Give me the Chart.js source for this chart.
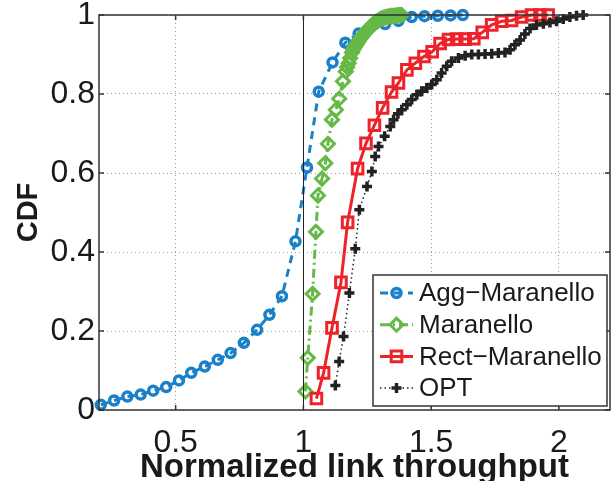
<!doctype html>
<html lang="en">
<head>
  <meta charset="utf-8">
  <title>CDF of normalized link throughput</title>
  <script src="https://cdn.jsdelivr.net/npm/chart.js"></script>
  <style>
    body { margin: 0; background: #fff; }
  </style>
</head>
<body>
<canvas id="cdfChart" width="613" height="481"></canvas>
<script>
// CDF samples per scheme: [throughput, cumulative fraction]
const aggMaranello = [
  [0.207, 0.013], [0.259, 0.024], [0.311, 0.034], [0.363, 0.039], [0.412, 0.049],
  [0.463, 0.058], [0.513, 0.075], [0.561, 0.094], [0.614, 0.110], [0.665, 0.127],
  [0.715, 0.144], [0.767, 0.170], [0.819, 0.203], [0.867, 0.241], [0.916, 0.288],
  [0.969, 0.427], [1.014, 0.614], [1.060, 0.806], [1.114, 0.880], [1.164, 0.930],
  [1.216, 0.953], [1.268, 0.972], [1.320, 0.977], [1.372, 0.985], [1.424, 0.995],
  [1.474, 0.997], [1.526, 0.998], [1.576, 0.999], [1.624, 1.000]
];
const maranello = [
  [1.008, 0.047], [1.017, 0.132], [1.036, 0.294], [1.049, 0.451], [1.057, 0.543],
  [1.073, 0.586], [1.086, 0.625], [1.096, 0.674], [1.112, 0.735], [1.127, 0.760],
  [1.140, 0.788], [1.155, 0.832], [1.166, 0.857], [1.171, 0.868], [1.177, 0.878],
  [1.183, 0.891], [1.190, 0.905], [1.195, 0.912], [1.200, 0.918], [1.205, 0.923],
  [1.210, 0.928], [1.215, 0.933], [1.220, 0.938], [1.225, 0.942], [1.229, 0.946],
  [1.234, 0.950], [1.239, 0.953], [1.244, 0.957], [1.249, 0.960], [1.253, 0.964],
  [1.258, 0.967], [1.263, 0.970], [1.268, 0.974], [1.273, 0.977], [1.278, 0.979],
  [1.283, 0.982], [1.288, 0.984], [1.293, 0.986], [1.298, 0.988], [1.303, 0.990],
  [1.307, 0.991], [1.313, 0.993], [1.320, 0.994], [1.326, 0.995], [1.333, 0.996],
  [1.340, 0.997], [1.346, 0.997], [1.352, 0.998], [1.359, 0.998], [1.366, 0.999],
  [1.372, 0.999], [1.378, 1.000], [1.385, 1.000]
];
const rectMaranello = [
  [1.051, 0.029], [1.079, 0.094], [1.112, 0.208], [1.147, 0.323], [1.173, 0.475],
  [1.212, 0.611], [1.245, 0.675], [1.278, 0.721], [1.310, 0.765], [1.345, 0.805],
  [1.372, 0.828], [1.405, 0.861], [1.438, 0.878], [1.472, 0.895], [1.504, 0.907],
  [1.535, 0.928], [1.568, 0.938], [1.600, 0.939], [1.633, 0.939], [1.667, 0.940],
  [1.700, 0.956], [1.737, 0.975], [1.776, 0.984], [1.815, 0.986], [1.854, 0.995],
  [1.893, 1.000], [1.926, 1.000], [1.958, 1.000]
];
const opt = [
  [1.125, 0.062], [1.140, 0.123], [1.157, 0.186], [1.180, 0.296], [1.203, 0.408],
  [1.219, 0.507], [1.249, 0.566], [1.268, 0.604], [1.281, 0.642], [1.294, 0.667],
  [1.318, 0.693], [1.340, 0.718], [1.353, 0.735], [1.370, 0.750], [1.385, 0.760],
  [1.405, 0.773], [1.424, 0.786], [1.444, 0.798], [1.463, 0.807], [1.483, 0.815],
  [1.502, 0.824], [1.522, 0.836], [1.541, 0.853], [1.561, 0.870], [1.580, 0.883],
  [1.607, 0.891], [1.633, 0.897], [1.659, 0.900], [1.685, 0.900], [1.711, 0.901],
  [1.737, 0.902], [1.763, 0.904], [1.789, 0.905], [1.809, 0.912], [1.828, 0.925],
  [1.848, 0.937], [1.867, 0.952], [1.887, 0.966], [1.912, 0.975], [1.939, 0.978],
  [1.965, 0.981], [1.991, 0.984], [2.017, 0.990], [2.043, 0.995], [2.069, 0.998],
  [2.095, 1.000]
];

const seriesNames = ['Agg\u2212Maranello', 'Maranello', 'Rect\u2212Maranello', 'OPT'];
const xTicks = [0.5, 1, 1.5, 2];
const yTicks = [0, 0.2, 0.4, 0.6, 0.8, 1];

const FONT = "'Liberation Sans', Arial, Helvetica, sans-serif";
const toXY = arr => arr.map(p => ({ x: p[0], y: p[1] }));

// keep the plot box where the layout padding puts it
function fixBox(s, size) {
  if (s.isHorizontal()) s.height = size; else s.width = size;
  s.paddingLeft = s.paddingRight = s.paddingTop = s.paddingBottom = 0;
}

// MATLAB-like box, x = 1 reference line and inward tick marks
const frame = {
  id: 'frame',
  afterDatasetsDraw(chart) {
    const { ctx, chartArea: a, scales: { x, y } } = chart;
    ctx.save();
    ctx.strokeStyle = '#222';
    ctx.lineWidth = 1;
    const x1 = Math.round(x.getPixelForValue(1)) + 0.5;
    ctx.beginPath();
    ctx.moveTo(x1, a.top);
    ctx.lineTo(x1, a.bottom);
    ctx.stroke();
    ctx.lineWidth = 1.5;
    ctx.strokeStyle = '#333';
    ctx.strokeRect(a.left, a.top, a.right - a.left, a.bottom - a.top);
    ctx.beginPath();
    xTicks.forEach(v => {
      const px = x.getPixelForValue(v);
      ctx.moveTo(px, a.bottom); ctx.lineTo(px, a.bottom - 5);
      ctx.moveTo(px, a.top); ctx.lineTo(px, a.top + 5);
    });
    yTicks.forEach(v => {
      const py = y.getPixelForValue(v);
      ctx.moveTo(a.left, py); ctx.lineTo(a.left + 5, py);
      ctx.moveTo(a.right, py); ctx.lineTo(a.right - 5, py);
    });
    ctx.stroke();
    ctx.restore();
  }
};

function marker(ctx, style, cx, cy, r) {
  ctx.beginPath();
  if (style === 'circle') {
    ctx.arc(cx, cy, r, 0, Math.PI * 2);
  } else if (style === 'rectRot') {
    ctx.moveTo(cx - r, cy); ctx.lineTo(cx, cy - r);
    ctx.lineTo(cx + r, cy); ctx.lineTo(cx, cy + r); ctx.closePath();
  } else if (style === 'rect') {
    const s = r * Math.SQRT1_2;
    ctx.rect(cx - s, cy - s, 2 * s, 2 * s);
  } else {
    ctx.moveTo(cx - r, cy); ctx.lineTo(cx + r, cy);
    ctx.moveTo(cx, cy - r); ctx.lineTo(cx, cy + r);
  }
  ctx.stroke();
}

// legend box in the lower right corner of the plot
const boxLegend = {
  id: 'boxLegend',
  afterDraw(chart) {
    const { ctx, chartArea: a } = chart;
    const left = 373, top = 275, right = a.right - 3, bottom = 406;
    ctx.save();
    ctx.fillStyle = '#fff';
    ctx.fillRect(left, top, right - left, bottom - top);
    ctx.strokeStyle = '#333';
    ctx.lineWidth = 1.5;
    ctx.strokeRect(left, top, right - left, bottom - top);
    ctx.font = '26px ' + FONT;
    ctx.textBaseline = 'middle';
    chart.data.datasets.forEach((ds, i) => {
      const cy = 293 + i * 31.7;
      ctx.strokeStyle = ds.borderColor;
      ctx.lineWidth = ds.borderWidth;
      ctx.setLineDash(ds.borderDash || []);
      ctx.beginPath();
      ctx.moveTo(380, cy); ctx.lineTo(413, cy);
      ctx.stroke();
      ctx.setLineDash([]);
      ctx.lineWidth = ds.pointBorderWidth;
      marker(ctx, ds.pointStyle, 396.5, cy, ds.pointRadius);
      ctx.fillStyle = '#1a1a1a';
      ctx.fillText(ds.label, 419, cy + 1);
    });
    ctx.restore();
  }
};

const baseSet = {
  fill: false,
  tension: 0,
  clip: false,
  pointBackgroundColor: 'rgba(0,0,0,0)'
};

new Chart(document.getElementById('cdfChart'), {
  type: 'line',
  data: {
    datasets: [
      Object.assign({}, baseSet, {
        label: seriesNames[0], data: toXY(aggMaranello), order: 4,
        borderColor: '#1a80c8', pointBorderColor: '#1a80c8',
        borderWidth: 3, borderDash: [8, 6],
        pointStyle: 'circle', pointRadius: 4.5, pointBorderWidth: 3.5
      }),
      Object.assign({}, baseSet, {
        label: seriesNames[1], data: toXY(maranello), order: 3,
        borderColor: '#66b947', pointBorderColor: '#66b947',
        borderWidth: 3, borderDash: [9, 4, 2, 4],
        pointStyle: 'rectRot', pointRadius: 6.5, pointBorderWidth: 3
      }),
      Object.assign({}, baseSet, {
        label: seriesNames[2], data: toXY(rectMaranello), order: 2,
        borderColor: '#ee2229', pointBorderColor: '#ee2229',
        borderWidth: 3,
        pointStyle: 'rect', pointRadius: 7.5, pointBorderWidth: 3
      }),
      Object.assign({}, baseSet, {
        label: seriesNames[3], data: toXY(opt), order: 1,
        borderColor: '#222', pointBorderColor: '#222',
        borderWidth: 1.5, borderDash: [1.5, 3],
        pointStyle: 'cross', pointRadius: 5, pointBorderWidth: 3.5
      })
    ]
  },
  options: {
    responsive: false,
    animation: false,
    layout: { autoPadding: false, padding: { top: 15, right: 3, left: 0, bottom: 0 } },
    plugins: {
      legend: { display: false },
      tooltip: { enabled: false }
    },
    scales: {
      x: {
        type: 'linear',
        min: 0.2,
        max: 2.2,
        afterBuildTicks: s => { s.ticks = xTicks.map(v => ({ value: v })); },
        afterFit: s => fixBox(s, 71),
        grid: { color: '#999', lineWidth: 1, drawTicks: false },
        border: { display: false, dash: [1, 3] },
        ticks: {
          padding: 14,
          color: '#1a1a1a',
          font: { family: FONT, size: 32 },
          maxRotation: 0,
          callback: v => String(v)
        },
        title: {
          display: true,
          text: 'Normalized link throughput',
          color: '#1a1a1a',
          padding: { top: 0, bottom: 0 },
          font: { family: FONT, size: 33, weight: 'bold', lineHeight: 0.8 }
        }
      },
      y: {
        min: 0,
        max: 1,
        afterBuildTicks: s => { s.ticks = yTicks.map(v => ({ value: v })); },
        afterFit: s => fixBox(s, 99),
        grid: { color: '#999', lineWidth: 1, drawTicks: false },
        border: { display: false, dash: [1, 3] },
        ticks: {
          padding: 4,
          color: '#1a1a1a',
          font: { family: FONT, size: 32 },
          callback: v => String(+v.toFixed(1))
        },
        title: {
          display: true,
          text: 'CDF',
          color: '#1a1a1a',
          padding: { top: 14, bottom: 0 },
          font: { family: FONT, size: 29, weight: 'bold', lineHeight: 1 }
        }
      }
    }
  },
  plugins: [frame, boxLegend]
});
</script>
</body>
</html>
